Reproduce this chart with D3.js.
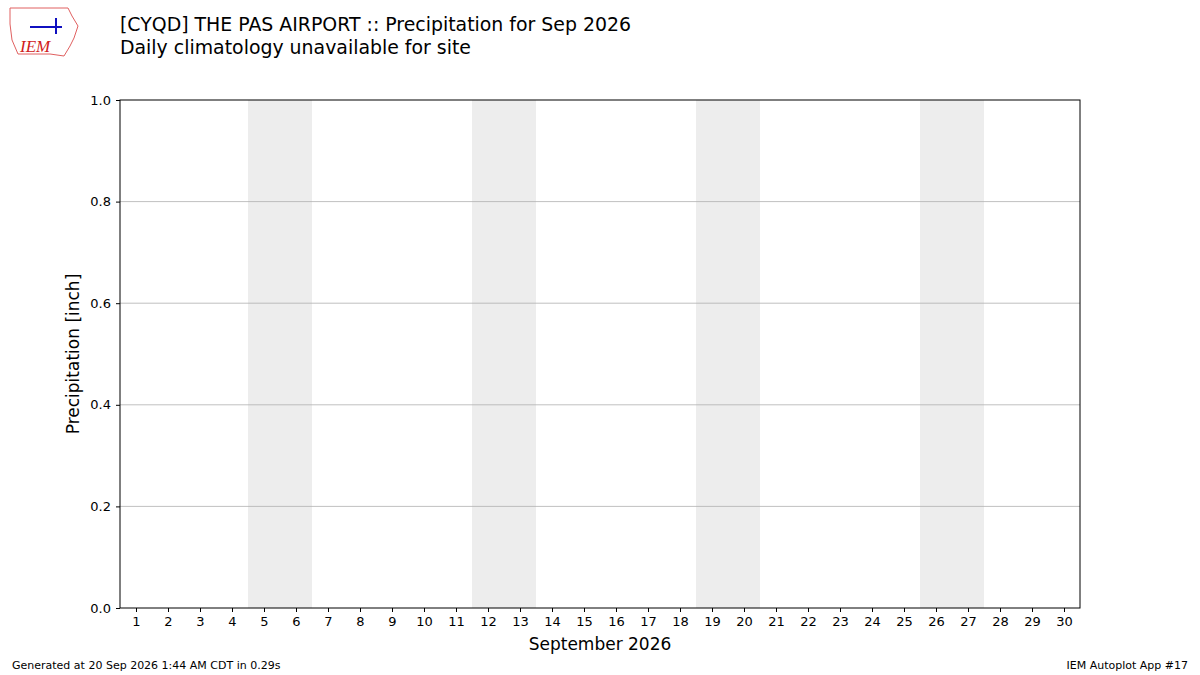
<!DOCTYPE html>
<html lang="en">
<head>
<meta charset="UTF-8">
<title>Precipitation</title>
<script src="https://cdn.jsdelivr.net/npm/d3@7/dist/d3.min.js"></script>
<style>
  body { margin: 0; background: #fff; }
  text { font-family: "DejaVu Sans", sans-serif; }
</style>
</head>
<body>
<svg id="chart" width="1200" height="675"></svg>
<script>
// days of month, weekend pairs (Sat/Sun) and y ticks
var days = d3.range(1, 31);
var weekends = [[5, 6], [12, 13], [19, 20], [26, 27]];
var yTicks = [0.0, 0.2, 0.4, 0.6, 0.8, 1.0];
var precip = []; // no observations

var svg = d3.select("#chart");
var pLeft = 120, pRight = 1080, pTop = 100, pBottom = 608;

var x = d3.scaleLinear().domain([0.5, 30.5]).range([pLeft, pRight]);
var y = d3.scaleLinear().domain([0, 1]).range([pBottom, pTop]);

// weekend shading
svg.selectAll(".wk").data(weekends).enter().append("rect")
    .attr("x", d => x(d[0] - 0.5))
    .attr("width", d => x(d[1] + 0.5) - x(d[0] - 0.5))
    .attr("y", pTop).attr("height", pBottom - pTop)
    .attr("fill", "#ededed");

// grid
svg.selectAll(".grid").data(yTicks.slice(1, -1)).enter().append("line")
    .attr("x1", pLeft).attr("x2", pRight)
    .attr("y1", d => y(d)).attr("y2", d => y(d))
    .attr("stroke", "#b0b0b0").attr("stroke-width", 0.8);

// axes
var xAxis = svg.append("g").attr("transform", "translate(0," + pBottom + ")")
    .call(d3.axisBottom(x).tickValues(days).tickSize(4).tickPadding(5).tickFormat(d3.format("d")));
var yAxis = svg.append("g").attr("transform", "translate(" + pLeft + ",0)")
    .call(d3.axisLeft(y).tickValues(yTicks).tickSize(4).tickPadding(5).tickFormat(d3.format(".1f")));
[xAxis, yAxis].forEach(function (g) {
    g.select(".domain").remove();
    g.selectAll("text").attr("font-size", 13).attr("fill", "#000")
        .style("font-family", "DejaVu Sans");
    g.selectAll("line").attr("stroke", "#000");
});

svg.append("rect").attr("x", pLeft).attr("y", pTop)
    .attr("width", pRight - pLeft).attr("height", pBottom - pTop)
    .attr("fill", "none").attr("stroke", "#000").attr("stroke-width", 1);

// labels
svg.append("text").attr("x", (pLeft + pRight) / 2).attr("y", 650)
    .attr("text-anchor", "middle").attr("font-size", 17).text("September 2026");
svg.append("text").attr("transform", "translate(79," + (pTop + pBottom) / 2 + ") rotate(-90)")
    .attr("text-anchor", "middle").attr("font-size", 17).text("Precipitation [inch]");

svg.append("text").attr("x", 120).attr("y", 31).attr("font-size", 18.9)
    .text("[CYQD] THE PAS AIRPORT :: Precipitation for Sep 2026");
svg.append("text").attr("x", 120).attr("y", 54).attr("font-size", 18.9)
    .text("Daily climatology unavailable for site");

svg.append("text").attr("x", 12).attr("y", 669).attr("font-size", 11)
    .text("Generated at 20 Sep 2026 1:44 AM CDT in 0.29s");
svg.append("text").attr("x", 1188).attr("y", 669).attr("font-size", 11)
    .attr("text-anchor", "end").text("IEM Autoplot App #17");

// rough logo
var logo = svg.append("g");
logo.append("path")
    .attr("d", "M10,8 L68,8 L72,16 L78,26 L74,38 L70,46 L64,56 L50,54 L18,54 L12,40 L10,24 Z")
    .attr("fill", "none").attr("stroke", "#e06060").attr("stroke-width", 1);
logo.append("line").attr("x1", 30).attr("x2", 62).attr("y1", 27).attr("y2", 27)
    .attr("stroke", "#1010c0").attr("stroke-width", 2);
logo.append("line").attr("x1", 56).attr("x2", 56).attr("y1", 18).attr("y2", 34)
    .attr("stroke", "#1010c0").attr("stroke-width", 2);
logo.append("text").attr("x", 20).attr("y", 52).attr("font-size", 17)
    .attr("font-style", "italic").attr("fill", "#d02020")
    .style("font-family", "Liberation Serif").text("IEM");
</script>
</body>
</html>
